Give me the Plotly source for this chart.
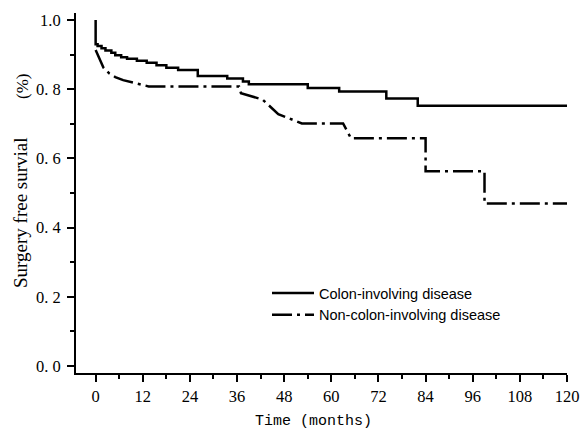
import plotly.graph_objects as go

# Colon-involving disease (Kaplan-Meier steps)
colon_t = [0, 0, 0.5, 1.5, 2.5, 4, 5, 6.5, 8, 10.5, 13, 15.5, 18, 21, 26, 33.5, 37.5, 39,
           54, 62, 74, 82, 120]
colon_s = [1.0, 0.93, 0.925, 0.918, 0.912, 0.905, 0.898, 0.892, 0.888, 0.882, 0.876, 0.869,
           0.862, 0.855, 0.838, 0.831, 0.822, 0.814, 0.803, 0.793, 0.773, 0.752, 0.752]

# Non-colon-involving disease
non_t = [0, 1, 2, 3.5, 5, 7, 10, 13.5, 36.5, 37, 42.5, 46.5, 52.5, 63, 65, 84, 84, 99, 99, 120]
non_s = [0.913, 0.885, 0.862, 0.845, 0.835, 0.826, 0.817, 0.808, 0.808, 0.788, 0.77, 0.728,
         0.701, 0.701, 0.658, 0.658, 0.563, 0.563, 0.470, 0.470]

x_ticks = [0, 12, 24, 36, 48, 60, 72, 84, 96, 108, 120]
y_ticks = [0.0, 0.2, 0.4, 0.6, 0.8, 1.0]
y_ticklabels = ["0. 0", "0. 2", "0. 4", "0. 6", "0. 8", "1.0"]

L, R, T, B = 76, 567, 13, 373
PW, PH = R - L, B - T

fig = go.Figure()
fig.add_trace(go.Scatter(
    x=colon_t, y=colon_s, mode="lines", line_shape="hv",
    line=dict(color="black", width=2.5),
    name="Colon-involving disease", legendgroup="a"))
fig.add_trace(go.Scatter(
    x=non_t, y=non_s, mode="lines",
    line=dict(color="black", width=2.5, dash="20px,5px,3px,5px"),
    name="Non-colon-involving disease", legendgroup="b"))

serif = "Liberation Serif"
fig.update_layout(
    width=581, height=433,
    margin=dict(l=L, r=581 - R, t=T, b=433 - B),
    plot_bgcolor="white", paper_bgcolor="white",
    showlegend=True,
    legend=dict(x=(267 - L) / PW, y=(B - 277) / PH, xanchor="left", yanchor="top",
                font=dict(family="Liberation Sans", size=14.5, color="black"),
                bgcolor="rgba(0,0,0,0)", tracegroupgap=0, traceorder="grouped",
                itemwidth=42),
    xaxis=dict(range=[-5, 120], tickvals=x_ticks, ticks="outside", ticklen=7, tickwidth=2,
               tickcolor="black", showline=True, linewidth=2, linecolor="black",
               showgrid=False, zeroline=False, automargin=False, ticklabelstandoff=0,
               tickfont=dict(family=serif, size=16.5, color="black"),
               minor=dict(dtick=6, tick0=0, ticks="outside", ticklen=4, tickwidth=2,
                          tickcolor="black", showgrid=False)),
    yaxis=dict(range=[-0.02, 1.02], tickvals=y_ticks, ticktext=y_ticklabels,
               ticks="outside", ticklen=7, tickwidth=2, tickcolor="black",
               showline=True, linewidth=2, linecolor="black",
               showgrid=False, zeroline=False, automargin=False, ticklabelstandoff=3,
               tickfont=dict(family=serif, size=16.5, color="black"),
               minor=dict(dtick=0.1, tick0=0, ticks="outside", ticklen=4, tickwidth=2,
                          tickcolor="black", showgrid=False)),
)
fig.add_annotation(text="Time (months)", xref="paper", yref="paper",
                   x=(313 - L) / PW, y=(B - 421) / PH, showarrow=False,
                   xanchor="center", yanchor="middle",
                   font=dict(family="Liberation Mono", size=15, color="black"))
fig.add_annotation(text="Surgery free survial", xref="paper", yref="paper",
                   x=(20 - L) / PW, y=(B - 213) / PH, textangle=-90,
                   xanchor="center", yanchor="middle",
                   showarrow=False, font=dict(family=serif, size=19, color="black"))
fig.add_annotation(text="(%)", xref="paper", yref="paper",
                   x=(22 - L) / PW, y=(B - 87) / PH, textangle=-90,
                   xanchor="center", yanchor="middle",
                   showarrow=False, font=dict(family=serif, size=17, color="black"))

fig.write_html("out.html", config={"displayModeBar": False},
               post_script="document.body.style.margin='0px';"
                           "document.body.style.overflow='hidden';")
